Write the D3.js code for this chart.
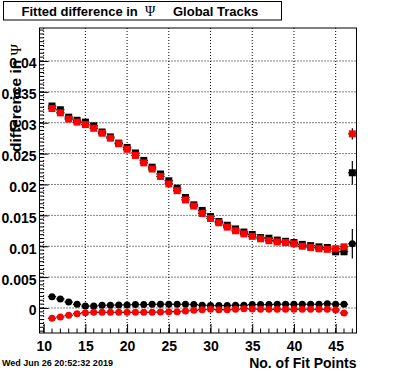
<!DOCTYPE html>
<html>
<head>
<meta charset="utf-8">
<script src="https://cdn.jsdelivr.net/npm/d3@7"></script>
<style>
  body { margin: 0; background: #fff; }
  svg { display: block; font-family: "Liberation Sans", Arial, sans-serif; }
</style>
</head>
<body>
<div id="plot"></div>
<script>
// Number of fit points (bin centres)
var fitPoints = [11, 12, 13, 14, 15, 16, 17, 18, 19, 20, 21, 22, 23, 24, 25, 26, 27, 28, 29,
                 30, 31, 32, 33, 34, 35, 36, 37, 38, 39, 40, 41, 42, 43, 44, 45, 46, 47];

// black squares
var blackSquare = [0.0327, 0.0321, 0.0309, 0.0304, 0.0301, 0.0295, 0.0285, 0.0277, 0.0267, 0.0260,
                   0.0251, 0.0239, 0.0228, 0.0217, 0.0206, 0.0194, 0.0179, 0.0167, 0.0158, 0.0148,
                   0.0140, 0.0134, 0.0128, 0.0123, 0.0119, 0.0114, 0.0113, 0.0110, 0.0108, 0.0106,
                   0.0103, 0.0101, 0.0099, 0.0098, 0.0091, 0.0091, 0.0219];
// red squares
var redSquare = [0.0323, 0.0316, 0.0306, 0.0301, 0.0297, 0.0291, 0.0283, 0.0275, 0.0266, 0.0257,
                 0.0247, 0.0235, 0.0225, 0.0213, 0.0201, 0.0190, 0.0175, 0.0165, 0.0153, 0.0145,
                 0.0138, 0.0131, 0.0125, 0.0120, 0.0116, 0.0112, 0.0109, 0.0107, 0.0106, 0.0104,
                 0.0100, 0.0098, 0.0096, 0.0095, 0.0096, 0.0099, 0.0282];
// black circles
var blackCircle = [0.00183, 0.00146, 0.00097, 0.00060, 0.00032, 0.00032, 0.00044, 0.00044, 0.00050, 0.00050,
                   0.00055, 0.00055, 0.00060, 0.00060, 0.00060, 0.00060, 0.00060, 0.00055, 0.00045, 0.00040,
                   0.00040, 0.00040, 0.00045, 0.00045, 0.00055, 0.00055, 0.00055, 0.00060, 0.00060, 0.00060,
                   0.00060, 0.00060, 0.00060, 0.00070, 0.00060, 0.00060, 0.0104];
// red circles (no entry in the last bin)
var redCircle = [-0.00167, -0.00146, -0.00119, -0.00092, -0.00076, -0.00070, -0.00070, -0.00070, -0.00070, -0.00070,
                 -0.00070, -0.00070, -0.00068, -0.00066, -0.00060, -0.00060, -0.00049, -0.00037, -0.00028, -0.00021,
                 -0.00028, -0.00028, -0.00021, -0.00011, -0.00016, -0.00021, -0.00021, -0.00021, -0.00021, -0.00021,
                 -0.00021, -0.00021, -0.00021, -0.00021, -0.00032, -0.00081, null];

// y errors
var squareErr = [0.0002, 0.0002, 0.0002, 0.0002, 0.0002, 0.0002, 0.0002, 0.0002, 0.0002, 0.0002,
                 0.0002, 0.0002, 0.0002, 0.0002, 0.0002, 0.0002, 0.0002, 0.0002, 0.0002, 0.0002,
                 0.0002, 0.0002, 0.0002, 0.0002, 0.0002, 0.0002, 0.0002, 0.0002, 0.0002, 0.0002,
                 0.0002, 0.0002, 0.0002, 0.0003, 0.0003, 0.0004, 0.0019];
var redSquareErr = squareErr.slice(0, 36).concat([0.0009]);
var circleErr = [0.0002, 0.0002, 0.0002, 0.0002, 0.0002, 0.0002, 0.0002, 0.0002, 0.0002, 0.0002,
                 0.0002, 0.0002, 0.0002, 0.0002, 0.0002, 0.0002, 0.0002, 0.0002, 0.0002, 0.0002,
                 0.0002, 0.0002, 0.0002, 0.0002, 0.0002, 0.0002, 0.0002, 0.0002, 0.0002, 0.0002,
                 0.0002, 0.0002, 0.0002, 0.0002, 0.0002, 0.0003, 0.0024];

var xTicks = [10, 15, 20, 25, 30, 35, 40, 45];
var yTicks = [0, 0.005, 0.01, 0.015, 0.02, 0.025, 0.03, 0.035, 0.04];
var yTickLabels = ["0", "0.005", "0.01", "0.015", "0.02", "0.025", "0.03", "0.035", "0.04"];

var W = 396, H = 372;
var frame = { left: 39.5, right: 356.5, top: 28, bottom: 333 };

var svg = d3.select("div#plot")
    .append("svg")
    .attr("width", W)
    .attr("height", H);

svg.append("rect").attr("width", W).attr("height", H).attr("fill", "#fff");

var x = d3.scaleLinear().domain([9.5, 47.5]).range([frame.left, frame.right]);
var y = d3.scaleLinear().domain([-0.00405, 0.04534]).range([frame.bottom, frame.top]);

// grid
svg.append("g").selectAll("line")
    .data(xTicks)
    .enter().append("line")
    .attr("x1", function (d) { return x(d); })
    .attr("x2", function (d) { return x(d); })
    .attr("y1", frame.top)
    .attr("y2", frame.bottom)
    .attr("stroke", "#000")
    .attr("stroke-dasharray", "1,2");

svg.append("g").selectAll("line")
    .data(yTicks)
    .enter().append("line")
    .attr("x1", frame.left)
    .attr("x2", frame.right)
    .attr("y1", function (d) { return y(d); })
    .attr("y2", function (d) { return y(d); })
    .attr("stroke", "#000")
    .attr("stroke-dasharray", "1,2");

// axes (ticks inside the frame, ROOT style)
var xMinor = d3.range(10, 48, 1);
var yMinor = d3.range(-0.00375, 0.0453, 0.000625);

var xAxis = d3.axisBottom(x).tickValues(xTicks).tickSize(-9).tickFormat(d3.format("d"));
var gx = svg.append("g")
    .attr("transform", "translate(0," + frame.bottom + ")")
    .call(xAxis);
gx.selectAll(".tick text")
    .attr("y", 8)
    .attr("dy", "0.71em")
    .style("font-size", "14px")
    .style("font-weight", "bold")
    .style("font-family", "Liberation Sans, Arial, sans-serif");
gx.select(".domain").remove();
gx.append("g").selectAll("line")
    .data(xMinor)
    .enter().append("line")
    .attr("x1", function (d) { return x(d); })
    .attr("x2", function (d) { return x(d); })
    .attr("y1", 0)
    .attr("y2", -4.5)
    .attr("stroke", "#000");

var yAxis = d3.axisLeft(y).tickValues(yTicks).tickSize(-9)
    .tickFormat(function (d, i) { return yTickLabels[i]; });
var gy = svg.append("g")
    .attr("transform", "translate(" + frame.left + ",0)")
    .call(yAxis);
gy.selectAll(".tick text")
    .attr("x", -3)
    .attr("dy", "0.5em")
    .style("font-size", "14px")
    .style("font-weight", "bold")
    .style("font-family", "Liberation Sans, Arial, sans-serif");
gy.select(".domain").remove();
gy.append("g").selectAll("line")
    .data(yMinor)
    .enter().append("line")
    .attr("x1", 0)
    .attr("x2", 4.5)
    .attr("y1", function (d) { return y(d); })
    .attr("y2", function (d) { return y(d); })
    .attr("stroke", "#000");

// frame
svg.append("rect")
    .attr("x", frame.left)
    .attr("y", frame.top)
    .attr("width", frame.right - frame.left)
    .attr("height", frame.bottom - frame.top)
    .attr("fill", "none")
    .attr("stroke", "#000");

// draw one series: error bars then markers
function drawSeries(values, errs, color, shape) {
    var pts = fitPoints.map(function (n, i) {
        return { n: n, v: values[i], e: errs[i] };
    }).filter(function (d) { return d.v !== null; });

    var g = svg.append("g");
    g.selectAll(".ex")
        .data(pts)
        .enter().append("line")
        .attr("x1", function (d) { return x(d.n - 0.5); })
        .attr("x2", function (d) { return x(d.n + 0.5); })
        .attr("y1", function (d) { return y(d.v); })
        .attr("y2", function (d) { return y(d.v); })
        .attr("stroke", "#000")
        .attr("stroke-width", 1.2);
    g.selectAll(".ey")
        .data(pts)
        .enter().append("line")
        .attr("x1", function (d) { return x(d.n); })
        .attr("x2", function (d) { return x(d.n); })
        .attr("y1", function (d) { return y(d.v - d.e); })
        .attr("y2", function (d) { return y(d.v + d.e); })
        .attr("stroke", "#000")
        .attr("stroke-width", 1.2);

    if (shape === "square") {
        g.selectAll(".m")
            .data(pts)
            .enter().append("rect")
            .attr("x", function (d) { return x(d.n) - 3.5; })
            .attr("y", function (d) { return y(d.v) - 3.5; })
            .attr("width", 7)
            .attr("height", 7)
            .attr("fill", color);
    } else {
        g.selectAll(".m")
            .data(pts)
            .enter().append("circle")
            .attr("cx", function (d) { return x(d.n); })
            .attr("cy", function (d) { return y(d.v); })
            .attr("r", 3.5)
            .attr("fill", color);
    }
}

drawSeries(blackSquare, squareErr, "#000", "square");
drawSeries(redSquare, redSquareErr, "#ff0000", "square");
drawSeries(blackCircle, circleErr, "#000", "circle");
drawSeries(redCircle, circleErr, "#ff0000", "circle");

// title box
svg.append("rect")
    .attr("x", 3.5)
    .attr("y", 1.5)
    .attr("width", 278)
    .attr("height", 18.5)
    .attr("fill", "#fff")
    .attr("stroke", "#000");

var title = svg.append("text")
    .attr("y", 15.5)
    .style("font-size", "13px")
    .style("font-weight", "bold");
title.append("tspan").attr("x", 21.5).text("Fitted difference in");
title.append("tspan").attr("x", 145)
    .style("font-family", "Liberation Serif, DejaVu Serif, serif")
    .style("font-weight", "normal")
    .style("font-size", "14px")
    .text("Ψ");
title.append("tspan").attr("x", 173).text("Global Tracks");

// axis titles
svg.append("text")
    .attr("x", frame.right)
    .attr("y", 368)
    .style("text-anchor", "end")
    .style("font-size", "14px")
    .style("font-weight", "bold")
    .text("No. of Fit Points");

var yt = svg.append("text")
    .attr("transform", "translate(21,44) rotate(-90)")
    .style("text-anchor", "end")
    .style("font-size", "15.5px")
    .style("font-weight", "bold");
yt.append("tspan").text("difference in ");
yt.append("tspan")
    .style("font-family", "Liberation Serif, DejaVu Serif, serif")
    .style("font-weight", "normal")
    .text("Ψ");

// date stamp
svg.append("text")
    .attr("x", 2)
    .attr("y", 366)
    .style("font-size", "9px")
    .style("font-weight", "bold")
    .text("Wed Jun 26 20:52:32 2019");
</script>
</body>
</html>
